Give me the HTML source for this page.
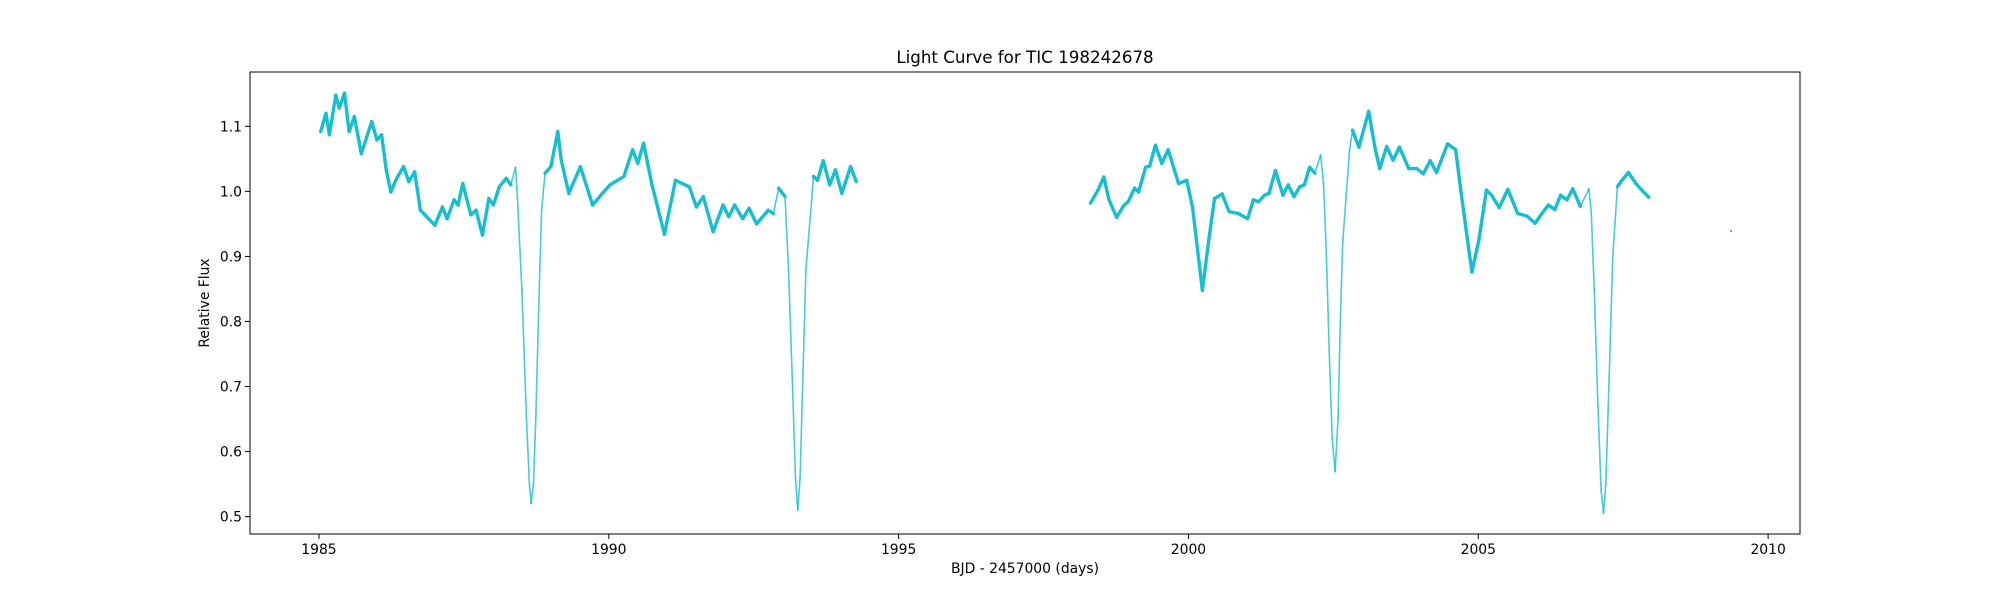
<!DOCTYPE html>
<html><head><meta charset="utf-8"><style>
html,body{margin:0;padding:0;background:#fff;}
svg{display:block;font-family:"DejaVu Sans","Liberation Sans",sans-serif;}
</style></head><body>
<svg id="chart" width="2000" height="600" viewBox="0 0 2000 600" xmlns="http://www.w3.org/2000/svg">
<rect width="2000" height="600" fill="#fff"/>
<text x="1025" y="63" text-anchor="middle" font-size="16.7">Light Curve for TIC 198242678</text>
<text x="1025" y="573" text-anchor="middle" font-size="13.9">BJD - 2457000 (days)</text>
<text transform="translate(209,303) rotate(-90)" text-anchor="middle" font-size="13.9">Relative Flux</text>
<g id="plot"></g>
<g id="axes"></g>
</svg>
<script>
const xTicks=[1985,1990,1995,2000,2005,2010];
const yTicks=[0.5,0.6,0.7,0.8,0.9,1.0,1.1];
const yTickLabels=["0.5","0.6","0.7","0.8","0.9","1.0","1.1"];
const seg1T=[1985.03,1985.12,1985.18,1985.29,1985.35,1985.44,1985.52,1985.61,1985.73,1985.91,1986.00,1986.08,1986.16,1986.24,1986.34,1986.46,1986.55,1986.65,1986.75,1987.00,1987.13,1987.21,1987.33,1987.40,1987.48,1987.62,1987.71,1987.82,1987.93,1988.01,1988.11,1988.23,1988.31,1988.39,1988.42,1988.50,1988.58,1988.63,1988.66,1988.70,1988.74,1988.80,1988.84,1988.90,1989.00,1989.12,1989.18,1989.31,1989.51,1989.72,1989.89,1990.02,1990.26,1990.41,1990.50,1990.60,1990.74,1990.96,1991.15,1991.39,1991.51,1991.63,1991.80,1991.97,1992.07,1992.17,1992.31,1992.42,1992.55,1992.75,1992.84,1992.93,1993.04,1993.10,1993.17,1993.22,1993.26,1993.30,1993.35,1993.40,1993.50,1993.53,1993.60,1993.70,1993.81,1993.91,1994.02,1994.17,1994.27];
const seg1F=[1.092,1.120,1.087,1.148,1.128,1.151,1.092,1.115,1.058,1.107,1.079,1.087,1.033,0.999,1.020,1.038,1.015,1.030,0.971,0.948,0.976,0.958,0.987,0.979,1.012,0.964,0.971,0.933,0.989,0.979,1.007,1.020,1.010,1.037,0.997,0.85,0.65,0.55,0.52,0.55,0.65,0.85,0.97,1.028,1.038,1.092,1.048,0.997,1.038,0.979,0.997,1.010,1.023,1.064,1.043,1.074,1.012,0.934,1.017,1.007,0.976,0.992,0.938,0.979,0.961,0.979,0.958,0.974,0.950,0.971,0.966,1.005,0.992,0.88,0.70,0.56,0.51,0.56,0.72,0.88,0.987,1.023,1.017,1.047,1.010,1.033,0.997,1.038,1.015];
const seg2T=[1998.31,1998.44,1998.54,1998.63,1998.76,1998.89,1998.96,1999.07,1999.14,1999.26,1999.33,1999.43,1999.54,1999.65,1999.83,1999.97,2000.07,2000.24,2000.35,2000.45,2000.51,2000.58,2000.70,2000.86,2001.02,2001.12,2001.21,2001.31,2001.39,2001.50,2001.63,2001.72,2001.82,2001.92,2002.00,2002.09,2002.18,2002.28,2002.33,2002.38,2002.43,2002.48,2002.53,2002.58,2002.62,2002.66,2002.78,2002.83,2002.94,2003.11,2003.22,2003.30,2003.42,2003.53,2003.64,2003.80,2003.94,2004.05,2004.17,2004.28,2004.47,2004.61,2004.69,2004.79,2004.89,2005.01,2005.14,2005.23,2005.36,2005.51,2005.68,2005.84,2005.98,2006.08,2006.21,2006.32,2006.42,2006.53,2006.63,2006.76,2006.91,2006.95,2007.00,2007.06,2007.12,2007.16,2007.20,2007.26,2007.32,2007.40,2007.46,2007.59,2007.72,2007.82,2007.94];
const seg2F=[0.982,1.002,1.022,0.987,0.960,0.979,0.984,1.005,0.999,1.037,1.039,1.071,1.043,1.064,1.012,1.017,0.976,0.848,0.925,0.989,0.992,0.996,0.969,0.966,0.958,0.987,0.984,0.994,0.997,1.032,0.994,1.010,0.992,1.007,1.010,1.037,1.028,1.056,1.012,0.90,0.75,0.62,0.569,0.65,0.80,0.92,1.064,1.094,1.068,1.123,1.066,1.035,1.069,1.048,1.068,1.035,1.035,1.027,1.047,1.029,1.073,1.064,1.007,0.941,0.876,0.925,1.002,0.994,0.975,1.003,0.966,0.962,0.951,0.964,0.979,0.972,0.994,0.987,1.004,0.977,1.004,0.966,0.85,0.68,0.54,0.505,0.55,0.72,0.90,1.007,1.015,1.029,1.012,1.002,0.991];
const loneT=[2009.36];
const loneF=[0.939];

const L=250,R=1800,T=72,B=534;
const xMin=1983.81,xMax=2010.55,yMin=0.4733,yMax=1.1835;
const xs=v=>L+(v-xMin)/(xMax-xMin)*(R-L);
const ys=v=>B-(v-yMin)/(yMax-yMin)*(B-T);
const NS="http://www.w3.org/2000/svg";
const plot=document.getElementById('plot'),axes=document.getElementById('axes');
function mk(tag,attrs,parent){const e=document.createElementNS(NS,tag);for(const k in attrs)e.setAttribute(k,attrs[k]);parent.appendChild(e);return e;}
function drawSeg(tArr,fArr,name){
  const g=mk('g',{},plot);
  
  
  for(let i=0;i<tArr.length-1;i++){
    const x1=xs(tArr[i]),y1=ys(fArr[i]),x2=xs(tArr[i+1]),y2=ys(fArr[i+1]);
    let lo=Infinity;
    for(let j=Math.max(0,i-3);j<=Math.min(fArr.length-1,i+4);j++)lo=Math.min(lo,fArr[j]);
    const deepDip=lo<0.8 && Math.abs(y2-y1)>12;
    const bottom=lo<0.8 && Math.min(fArr[i],fArr[i+1])<0.62;
    const thin=deepDip||bottom;
    const ln=mk('line',{x1:x1,y1:y1,x2:x2,y2:y2,stroke:'#17becf','stroke-width':thin?1.6:3.4,'stroke-linecap':'round','stroke-opacity':thin?0.8:1},g);
    
    
  }
}
drawSeg(seg1T,seg1F,'flux-series-sector-1');
drawSeg(seg2T,seg2F,'flux-series-sector-2');
for(let i=0;i<loneT.length;i++){
  const c=mk('circle',{cx:xs(loneT[i]),cy:ys(loneF[i]),r:1.2,fill:'#17becf'},plot);
  
  
}
const frame=mk('rect',{x:L,y:T,width:R-L,height:B-T,fill:'none',stroke:'#000','stroke-width':1},axes);


xTicks.forEach(v=>{
  const x=xs(v);
  const t=mk('line',{x1:x,y1:B,x2:x,y2:B+5,stroke:'#000','stroke-width':1},axes);
  
  
  const lb=mk('text',{x:x,y:B+20,'text-anchor':'middle','font-size':13.9},axes);
  lb.textContent=String(v);
  
  
});
yTicks.forEach((v,i)=>{
  const y=ys(v);
  const t=mk('line',{x1:L-5,y1:y,x2:L,y2:y,stroke:'#000','stroke-width':1},axes);
  
  
  const lb=mk('text',{x:L-8,y:y+5,'text-anchor':'end','font-size':13.9},axes);
  lb.textContent=yTickLabels[i];
  
  
});
</script>
</body></html>
